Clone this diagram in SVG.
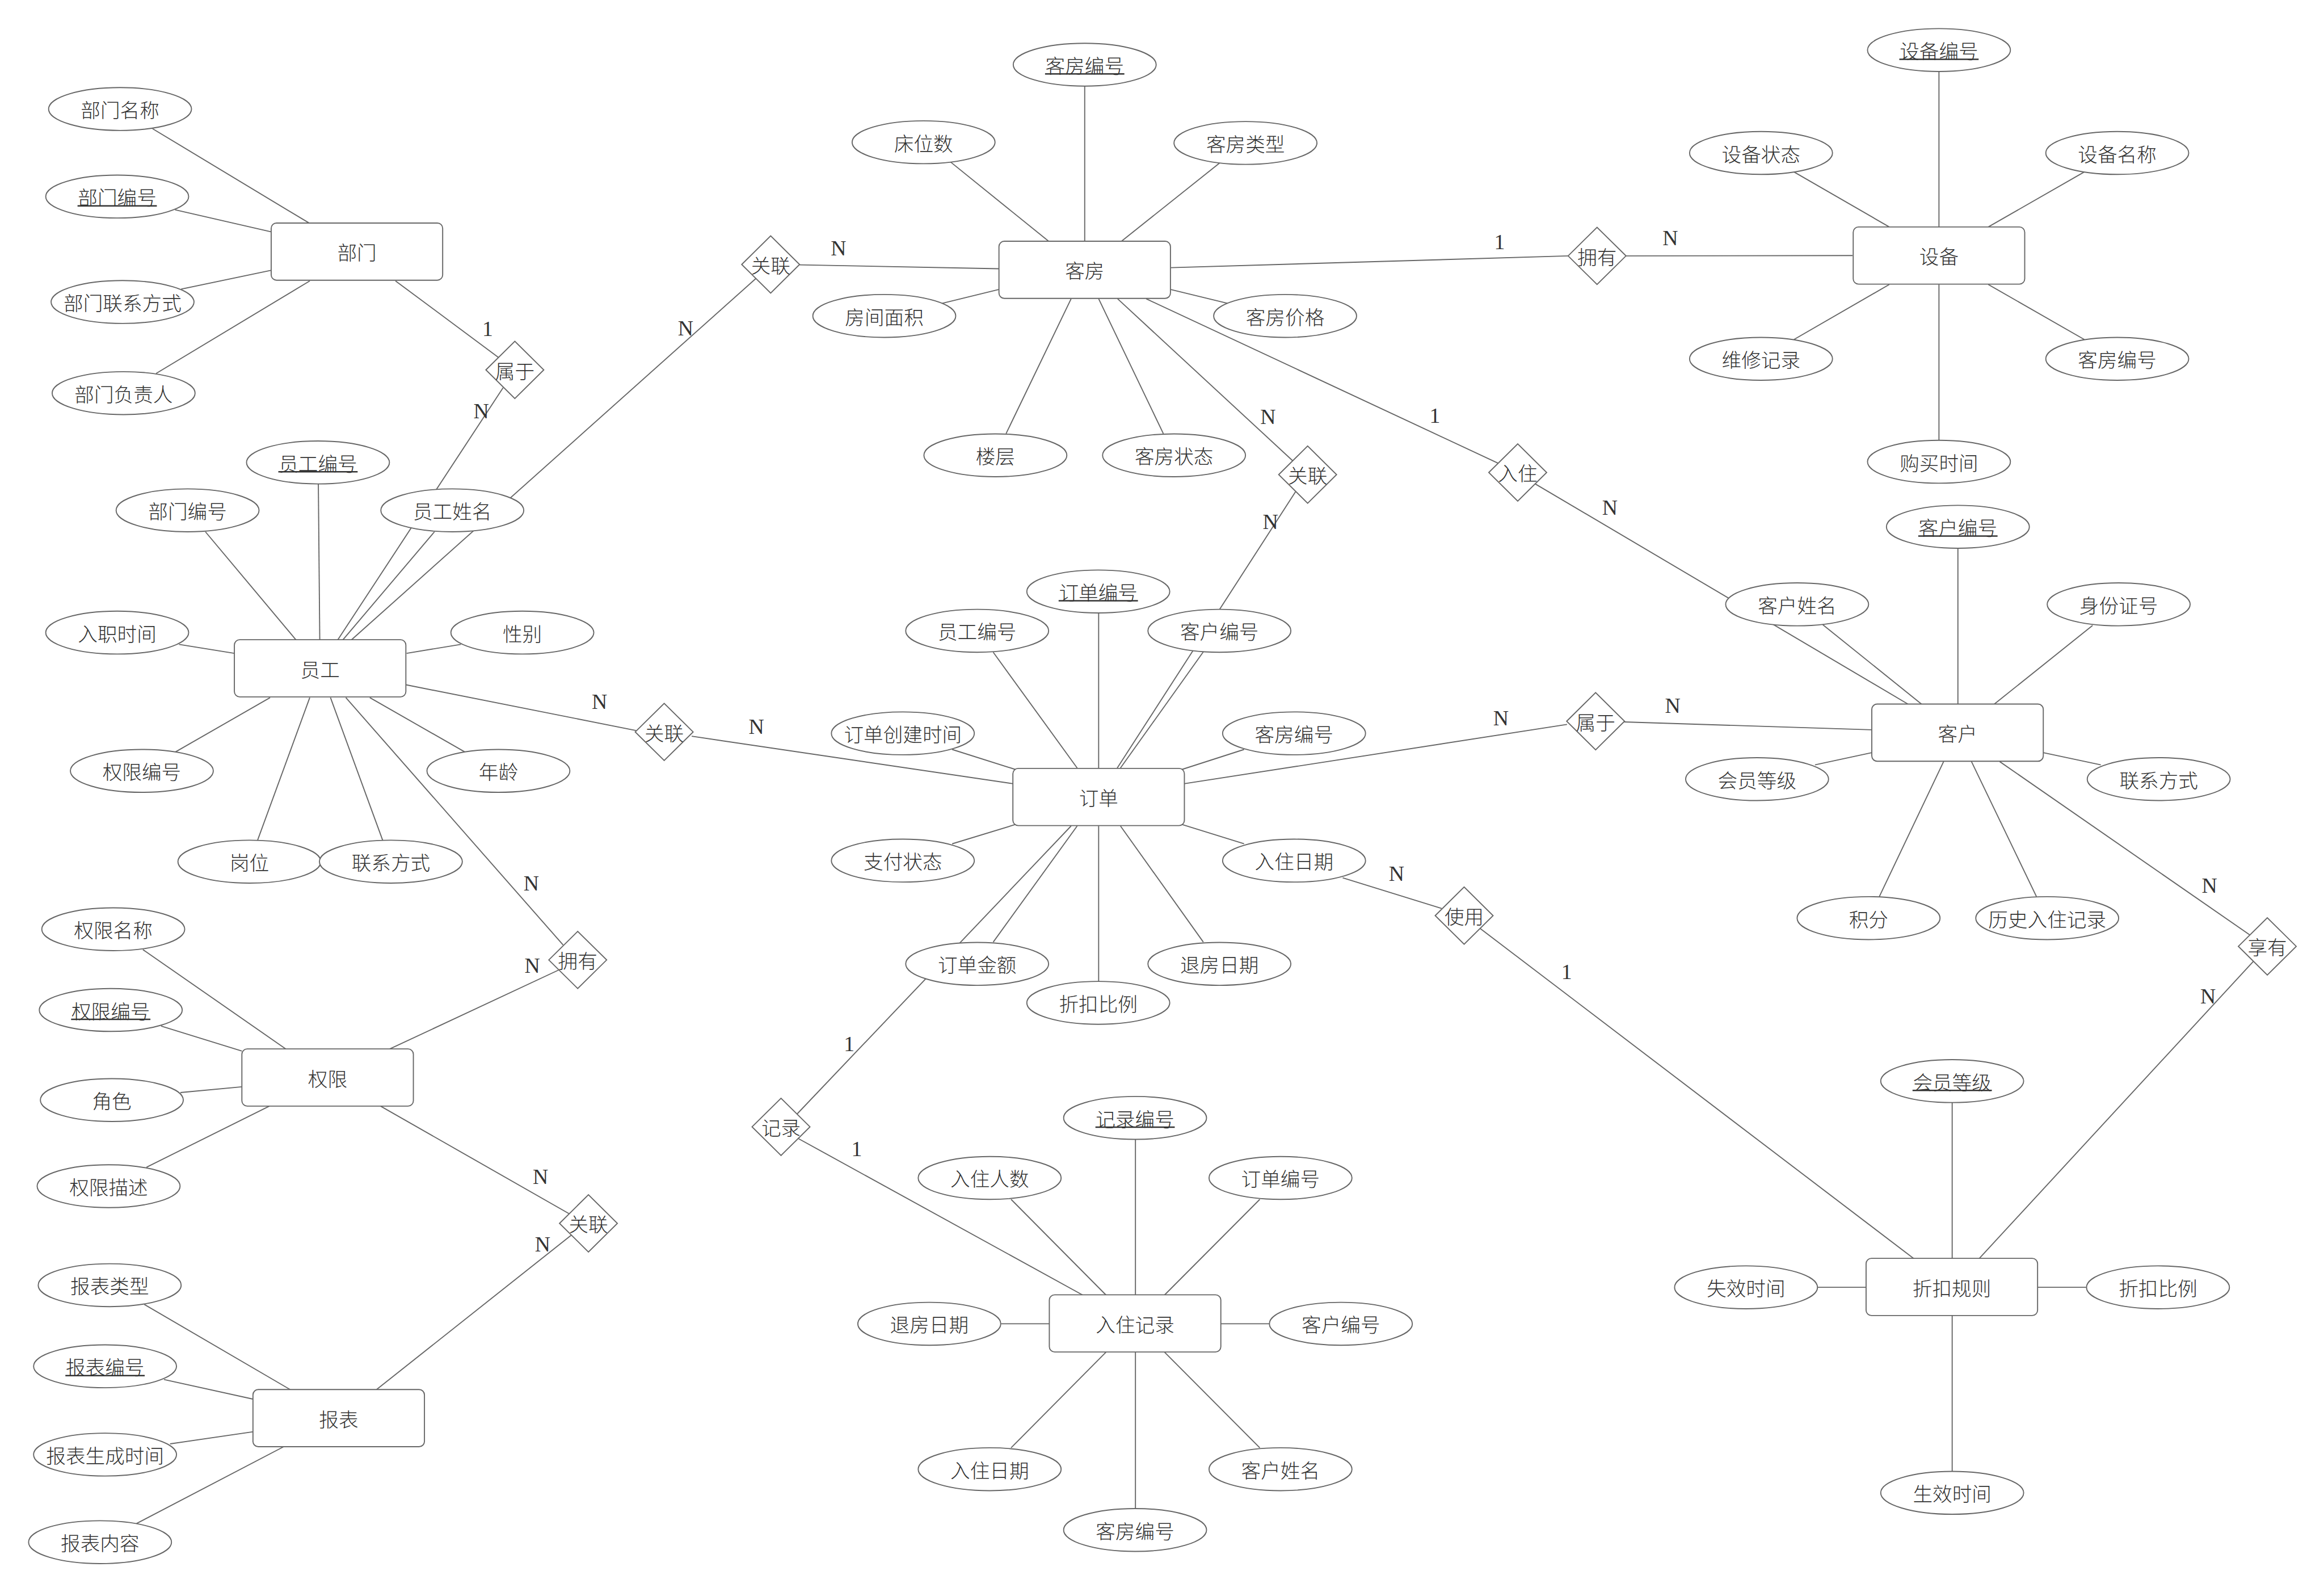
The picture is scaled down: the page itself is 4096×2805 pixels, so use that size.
<svg xmlns="http://www.w3.org/2000/svg" xmlns:xlink="http://www.w3.org/1999/xlink" width="4096" height="2805" viewBox="0 0 4096 2805">
<style>
.e{fill:#fff;stroke:#666;stroke-width:3}
.t{font-family:"Noto Sans CJK SC","Noto Sans CJK JP",sans-serif;font-size:55px;font-weight:300;fill:#333;text-anchor:middle;dominant-baseline:central}
.u{stroke:#333;stroke-width:4}
.c line{stroke:#666;stroke-width:3}
.l{font-family:"Liberation Serif",serif;font-size:60px;fill:#333;text-anchor:middle;dominant-baseline:central}
</style>
<defs>
<ellipse id="ell" rx="200" ry="60"/>
<rect id="ent" x="-240" y="-80" width="480" height="160" rx="15"/>
<polygon id="dia" points="-81,0 0,-80 81,0 0,80"/>
</defs>
<rect width="4096" height="2805" fill="#fff"/>
<g transform="scale(0.6297)">
<g id="connectors" class="c">
<line x1="427" y1="360" x2="865" y2="624"/>
<line x1="490" y1="587" x2="760" y2="649"/>
<line x1="507" y1="809" x2="760" y2="756"/>
<line x1="437" y1="1045" x2="867" y2="786"/>
<line x1="1107" y1="786" x2="1395" y2="1000"/>
<line x1="1408" y1="1085" x2="945" y2="1791"/>
<line x1="891" y1="1354" x2="895" y2="1791"/>
<line x1="575" y1="1488" x2="829" y2="1791"/>
<line x1="1216" y1="1488" x2="959" y2="1791"/>
<line x1="2116" y1="779" x2="983" y2="1791"/>
<line x1="501" y1="1803" x2="656" y2="1828"/>
<line x1="1138" y1="1828" x2="1290" y2="1803"/>
<line x1="491" y1="2104" x2="756" y2="1952"/>
<line x1="1301" y1="2104" x2="1035" y2="1952"/>
<line x1="721" y1="2351" x2="867" y2="1952"/>
<line x1="1071" y1="2351" x2="925" y2="1952"/>
<line x1="968" y1="1952" x2="1576" y2="2644"/>
<line x1="1136" y1="1916" x2="1780" y2="2044"/>
<line x1="2238" y1="741" x2="2795" y2="752"/>
<line x1="3036" y1="241" x2="3036" y2="675"/>
<line x1="2659" y1="452" x2="2935" y2="675"/>
<line x1="3415" y1="455" x2="3139" y2="675"/>
<line x1="2636" y1="849" x2="2795" y2="810"/>
<line x1="3277" y1="810" x2="3437" y2="849"/>
<line x1="2816" y1="1213" x2="2998" y2="836"/>
<line x1="3256" y1="1213" x2="3075" y2="836"/>
<line x1="3128" y1="836" x2="3618" y2="1289"/>
<line x1="3626" y1="1376" x2="3127" y2="2149"/>
<line x1="3208" y1="836" x2="4193" y2="1296"/>
<line x1="4297" y1="1354" x2="5340" y2="1970"/>
<line x1="3277" y1="749" x2="4389" y2="716"/>
<line x1="4551" y1="716" x2="5185" y2="715"/>
<line x1="5427" y1="200" x2="5427" y2="635"/>
<line x1="5021" y1="481" x2="5288" y2="635"/>
<line x1="5834" y1="481" x2="5565" y2="635"/>
<line x1="5021" y1="950" x2="5288" y2="796"/>
<line x1="5834" y1="950" x2="5565" y2="796"/>
<line x1="5427" y1="796" x2="5427" y2="1231"/>
<line x1="3075" y1="1714" x2="3075" y2="2149"/>
<line x1="2780" y1="1825" x2="3015" y2="2149"/>
<line x1="3368" y1="1824" x2="3136" y2="2149"/>
<line x1="2665" y1="2097" x2="2842" y2="2153"/>
<line x1="3482" y1="2097" x2="3308" y2="2153"/>
<line x1="2665" y1="2361" x2="2842" y2="2307"/>
<line x1="3482" y1="2361" x2="3308" y2="2307"/>
<line x1="2780" y1="2636" x2="3015" y2="2311"/>
<line x1="2998" y1="2311" x2="2231" y2="3117"/>
<line x1="3368" y1="2636" x2="3136" y2="2311"/>
<line x1="3075" y1="2311" x2="3075" y2="2746"/>
<line x1="1936" y1="2060" x2="2836" y2="2193"/>
<line x1="3314" y1="2193" x2="4386" y2="2027"/>
<line x1="4546" y1="2020" x2="5239" y2="2042"/>
<line x1="3758" y1="2456" x2="4035" y2="2542"/>
<line x1="4143" y1="2598" x2="5357" y2="3522"/>
<line x1="5480" y1="1533" x2="5480" y2="1970"/>
<line x1="5102" y1="1748" x2="5378" y2="1970"/>
<line x1="5857" y1="1750" x2="5582" y2="1970"/>
<line x1="5080" y1="2140" x2="5239" y2="2106"/>
<line x1="5719" y1="2106" x2="5880" y2="2140"/>
<line x1="5260" y1="2509" x2="5440" y2="2131"/>
<line x1="5700" y1="2509" x2="5518" y2="2131"/>
<line x1="5597" y1="2131" x2="6297" y2="2616"/>
<line x1="6307" y1="2690" x2="5539" y2="3522"/>
<line x1="5464" y1="3083" x2="5464" y2="3522"/>
<line x1="5086" y1="3602" x2="5223" y2="3602"/>
<line x1="5703" y1="3602" x2="5839" y2="3602"/>
<line x1="5464" y1="3681" x2="5464" y2="4117"/>
<line x1="3178" y1="3185" x2="3178" y2="3624"/>
<line x1="2830" y1="3356" x2="3096" y2="3624"/>
<line x1="3526" y1="3356" x2="3259" y2="3624"/>
<line x1="2802" y1="3704" x2="2937" y2="3704"/>
<line x1="3417" y1="3704" x2="3554" y2="3704"/>
<line x1="2830" y1="4051" x2="3096" y2="3783"/>
<line x1="3526" y1="4051" x2="3259" y2="3783"/>
<line x1="3178" y1="3783" x2="3178" y2="4221"/>
<line x1="2235" y1="3186" x2="3031" y2="3624"/>
<line x1="400" y1="2657" x2="800" y2="2935"/>
<line x1="451" y1="2871" x2="677" y2="2941"/>
<line x1="505" y1="3057" x2="677" y2="3041"/>
<line x1="410" y1="3266" x2="754" y2="3095"/>
<line x1="1091" y1="2935" x2="1564" y2="2714"/>
<line x1="1065" y1="3095" x2="1593" y2="3396"/>
<line x1="404" y1="3650" x2="812" y2="3888"/>
<line x1="459" y1="3860" x2="709" y2="3915"/>
<line x1="476" y1="4040" x2="709" y2="4006"/>
<line x1="382" y1="4263" x2="794" y2="4048"/>
<line x1="1599" y1="3456" x2="1054" y2="3888"/>
</g>

<g id="dept" transform="translate(999,704)"><use xlink:href="#ent" class="e"/><text class="t">部门</text></g>
<g id="dept-name" transform="translate(336,305)"><use xlink:href="#ell" class="e"/><text class="t">部门名称</text></g>
<g id="dept-id" transform="translate(328,550)"><use xlink:href="#ell" class="e"/><text class="t">部门编号</text><line class="u" x1="-111" y1="26" x2="111" y2="26"/></g>
<g id="dept-contact" transform="translate(343,845)"><use xlink:href="#ell" class="e"/><text class="t">部门联系方式</text></g>
<g id="dept-head" transform="translate(346,1100)"><use xlink:href="#ell" class="e"/><text class="t">部门负责人</text></g>

<g id="emp" transform="translate(896,1870)"><use xlink:href="#ent" class="e"/><text class="t">员工</text></g>
<g id="emp-id" transform="translate(890,1294)"><use xlink:href="#ell" class="e"/><text class="t">员工编号</text><line class="u" x1="-111" y1="26" x2="111" y2="26"/></g>
<g id="emp-dept" transform="translate(525,1428)"><use xlink:href="#ell" class="e"/><text class="t">部门编号</text></g>
<g id="emp-name" transform="translate(1266,1428)"><use xlink:href="#ell" class="e"/><text class="t">员工姓名</text></g>
<g id="emp-hire" transform="translate(328,1770)"><use xlink:href="#ell" class="e"/><text class="t">入职时间</text></g>
<g id="emp-sex" transform="translate(1462,1770)"><use xlink:href="#ell" class="e"/><text class="t">性别</text></g>
<g id="emp-perm" transform="translate(397,2157)"><use xlink:href="#ell" class="e"/><text class="t">权限编号</text></g>
<g id="emp-age" transform="translate(1395,2157)"><use xlink:href="#ell" class="e"/><text class="t">年龄</text></g>
<g id="emp-post" transform="translate(698,2411)"><use xlink:href="#ell" class="e"/><text class="t">岗位</text></g>
<g id="emp-contact" transform="translate(1094,2411)"><use xlink:href="#ell" class="e"/><text class="t">联系方式</text></g>

<g id="room" transform="translate(3036,755)"><use xlink:href="#ent" class="e"/><text class="t">客房</text></g>
<g id="room-id" transform="translate(3036,181)"><use xlink:href="#ell" class="e"/><text class="t">客房编号</text><line class="u" x1="-111" y1="26" x2="111" y2="26"/></g>
<g id="room-beds" transform="translate(2585,398)"><use xlink:href="#ell" class="e"/><text class="t">床位数</text></g>
<g id="room-type" transform="translate(3486,400)"><use xlink:href="#ell" class="e"/><text class="t">客房类型</text></g>
<g id="room-area" transform="translate(2475,884)"><use xlink:href="#ell" class="e"/><text class="t">房间面积</text></g>
<g id="room-price" transform="translate(3597,884)"><use xlink:href="#ell" class="e"/><text class="t">客房价格</text></g>
<g id="room-floor" transform="translate(2786,1274)"><use xlink:href="#ell" class="e"/><text class="t">楼层</text></g>
<g id="room-state" transform="translate(3286,1274)"><use xlink:href="#ell" class="e"/><text class="t">客房状态</text></g>

<g id="dev" transform="translate(5427,715)"><use xlink:href="#ent" class="e"/><text class="t">设备</text></g>
<g id="dev-id" transform="translate(5427,140)"><use xlink:href="#ell" class="e"/><text class="t">设备编号</text><line class="u" x1="-111" y1="26" x2="111" y2="26"/></g>
<g id="dev-state" transform="translate(4929,428)"><use xlink:href="#ell" class="e"/><text class="t">设备状态</text></g>
<g id="dev-name" transform="translate(5926,428)"><use xlink:href="#ell" class="e"/><text class="t">设备名称</text></g>
<g id="dev-repair" transform="translate(4929,1004)"><use xlink:href="#ell" class="e"/><text class="t">维修记录</text></g>
<g id="dev-room" transform="translate(5926,1004)"><use xlink:href="#ell" class="e"/><text class="t">客房编号</text></g>
<g id="dev-buy" transform="translate(5427,1292)"><use xlink:href="#ell" class="e"/><text class="t">购买时间</text></g>

<g id="order" transform="translate(3075,2230)"><use xlink:href="#ent" class="e"/><text class="t">订单</text></g>
<g id="order-id" transform="translate(3074,1655)"><use xlink:href="#ell" class="e"/><text class="t">订单编号</text><line class="u" x1="-111" y1="26" x2="111" y2="26"/></g>
<g id="order-emp" transform="translate(2735,1765)"><use xlink:href="#ell" class="e"/><text class="t">员工编号</text></g>
<g id="order-cust" transform="translate(3413,1765)"><use xlink:href="#ell" class="e"/><text class="t">客户编号</text></g>
<g id="order-created" transform="translate(2527,2052)"><use xlink:href="#ell" class="e"/><text class="t">订单创建时间</text></g>
<g id="order-room" transform="translate(3622,2052)"><use xlink:href="#ell" class="e"/><text class="t">客房编号</text></g>
<g id="order-pay" transform="translate(2527,2408)"><use xlink:href="#ell" class="e"/><text class="t">支付状态</text></g>
<g id="order-in" transform="translate(3622,2408)"><use xlink:href="#ell" class="e"/><text class="t">入住日期</text></g>
<g id="order-amount" transform="translate(2735,2697)"><use xlink:href="#ell" class="e"/><text class="t">订单金额</text></g>
<g id="order-out" transform="translate(3413,2697)"><use xlink:href="#ell" class="e"/><text class="t">退房日期</text></g>
<g id="order-discount" transform="translate(3074,2806)"><use xlink:href="#ell" class="e"/><text class="t">折扣比例</text></g>

<g id="cust" transform="translate(5479,2050)"><use xlink:href="#ent" class="e"/><text class="t">客户</text></g>
<g id="cust-id" transform="translate(5480,1474)"><use xlink:href="#ell" class="e"/><text class="t">客户编号</text><line class="u" x1="-111" y1="26" x2="111" y2="26"/></g>
<g id="cust-name" transform="translate(5030,1691)"><use xlink:href="#ell" class="e"/><text class="t">客户姓名</text></g>
<g id="cust-idcard" transform="translate(5930,1691)"><use xlink:href="#ell" class="e"/><text class="t">身份证号</text></g>
<g id="cust-level" transform="translate(4918,2180)"><use xlink:href="#ell" class="e"/><text class="t">会员等级</text></g>
<g id="cust-contact" transform="translate(6042,2180)"><use xlink:href="#ell" class="e"/><text class="t">联系方式</text></g>
<g id="cust-points" transform="translate(5230,2569)"><use xlink:href="#ell" class="e"/><text class="t">积分</text></g>
<g id="cust-history" transform="translate(5730,2569)"><use xlink:href="#ell" class="e"/><text class="t">历史入住记录</text></g>

<g id="stay" transform="translate(3177,3703)"><use xlink:href="#ent" class="e"/><text class="t">入住记录</text></g>
<g id="stay-id" transform="translate(3177,3128)"><use xlink:href="#ell" class="e"/><text class="t">记录编号</text><line class="u" x1="-111" y1="26" x2="111" y2="26"/></g>
<g id="stay-count" transform="translate(2770,3296)"><use xlink:href="#ell" class="e"/><text class="t">入住人数</text></g>
<g id="stay-order" transform="translate(3584,3296)"><use xlink:href="#ell" class="e"/><text class="t">订单编号</text></g>
<g id="stay-out" transform="translate(2601,3704)"><use xlink:href="#ell" class="e"/><text class="t">退房日期</text></g>
<g id="stay-cust" transform="translate(3753,3704)"><use xlink:href="#ell" class="e"/><text class="t">客户编号</text></g>
<g id="stay-in" transform="translate(2770,4111)"><use xlink:href="#ell" class="e"/><text class="t">入住日期</text></g>
<g id="stay-name" transform="translate(3584,4111)"><use xlink:href="#ell" class="e"/><text class="t">客户姓名</text></g>
<g id="stay-room" transform="translate(3177,4281)"><use xlink:href="#ell" class="e"/><text class="t">客房编号</text></g>

<g id="rule" transform="translate(5463,3601)"><use xlink:href="#ent" class="e"/><text class="t">折扣规则</text></g>
<g id="rule-level" transform="translate(5464,3025)"><use xlink:href="#ell" class="e"/><text class="t">会员等级</text><line class="u" x1="-111" y1="26" x2="111" y2="26"/></g>
<g id="rule-end" transform="translate(4887,3602)"><use xlink:href="#ell" class="e"/><text class="t">失效时间</text></g>
<g id="rule-ratio" transform="translate(6040,3602)"><use xlink:href="#ell" class="e"/><text class="t">折扣比例</text></g>
<g id="rule-start" transform="translate(5464,4177)"><use xlink:href="#ell" class="e"/><text class="t">生效时间</text></g>

<g id="perm" transform="translate(917,3015)"><use xlink:href="#ent" class="e"/><text class="t">权限</text></g>
<g id="perm-name" transform="translate(317,2600)"><use xlink:href="#ell" class="e"/><text class="t">权限名称</text></g>
<g id="perm-id" transform="translate(310,2826)"><use xlink:href="#ell" class="e"/><text class="t">权限编号</text><line class="u" x1="-111" y1="26" x2="111" y2="26"/></g>
<g id="perm-role" transform="translate(313,3078)"><use xlink:href="#ell" class="e"/><text class="t">角色</text></g>
<g id="perm-desc" transform="translate(304,3319)"><use xlink:href="#ell" class="e"/><text class="t">权限描述</text></g>

<g id="report" transform="translate(948,3968)"><use xlink:href="#ent" class="e"/><text class="t">报表</text></g>
<g id="report-type" transform="translate(307,3596)"><use xlink:href="#ell" class="e"/><text class="t">报表类型</text></g>
<g id="report-id" transform="translate(294,3823)"><use xlink:href="#ell" class="e"/><text class="t">报表编号</text><line class="u" x1="-111" y1="26" x2="111" y2="26"/></g>
<g id="report-time" transform="translate(294,4070)"><use xlink:href="#ell" class="e"/><text class="t">报表生成时间</text></g>
<g id="report-content" transform="translate(280,4315)"><use xlink:href="#ell" class="e"/><text class="t">报表内容</text></g>

<g id="rel-dept-emp" transform="translate(1441,1035)"><use xlink:href="#dia" class="e"/><text class="t">属于</text></g>
<g id="rel-emp-room" transform="translate(2157,740)"><use xlink:href="#dia" class="e"/><text class="t">关联</text></g>
<g id="rel-room-order" transform="translate(3660,1328)"><use xlink:href="#dia" class="e"/><text class="t">关联</text></g>
<g id="rel-room-cust" transform="translate(4248,1322)"><use xlink:href="#dia" class="e"/><text class="t">入住</text></g>
<g id="rel-room-dev" transform="translate(4470,716)"><use xlink:href="#dia" class="e"/><text class="t">拥有</text></g>
<g id="rel-emp-order" transform="translate(1859,2048)"><use xlink:href="#dia" class="e"/><text class="t">关联</text></g>
<g id="rel-order-cust" transform="translate(4466,2018)"><use xlink:href="#dia" class="e"/><text class="t">属于</text></g>
<g id="rel-use" transform="translate(4098,2562)"><use xlink:href="#dia" class="e"/><text class="t">使用</text></g>
<g id="rel-enjoy" transform="translate(6346,2648)"><use xlink:href="#dia" class="e"/><text class="t">享有</text></g>
<g id="rel-emp-perm" transform="translate(1617,2686)"><use xlink:href="#dia" class="e"/><text class="t">拥有</text></g>
<g id="rel-record" transform="translate(2186,3153)"><use xlink:href="#dia" class="e"/><text class="t">记录</text></g>
<g id="rel-perm-report" transform="translate(1647,3423)"><use xlink:href="#dia" class="e"/><text class="t">关联</text></g>

<g id="cardinality">
<text class="l" x="1365" y="919">1</text>
<text class="l" x="1347" y="1150">N</text>
<text class="l" x="1919" y="918">N</text>
<text class="l" x="2347" y="694">N</text>
<text class="l" x="3549" y="1166">N</text>
<text class="l" x="3556" y="1460">N</text>
<text class="l" x="4016" y="1162">1</text>
<text class="l" x="4506" y="1419">N</text>
<text class="l" x="4197" y="676">1</text>
<text class="l" x="4675" y="665">N</text>
<text class="l" x="1678" y="1963">N</text>
<text class="l" x="2117" y="2033">N</text>
<text class="l" x="4201" y="2009">N</text>
<text class="l" x="4682" y="1974">N</text>
<text class="l" x="3909" y="2444">N</text>
<text class="l" x="4385" y="2718">1</text>
<text class="l" x="6184" y="2478">N</text>
<text class="l" x="6180" y="2787">N</text>
<text class="l" x="1487" y="2471">N</text>
<text class="l" x="1490" y="2701">N</text>
<text class="l" x="1513" y="3292">N</text>
<text class="l" x="1519" y="3481">N</text>
<text class="l" x="2377" y="2921">1</text>
<text class="l" x="2398" y="3215">1</text>
</g>
</g>
</svg>
